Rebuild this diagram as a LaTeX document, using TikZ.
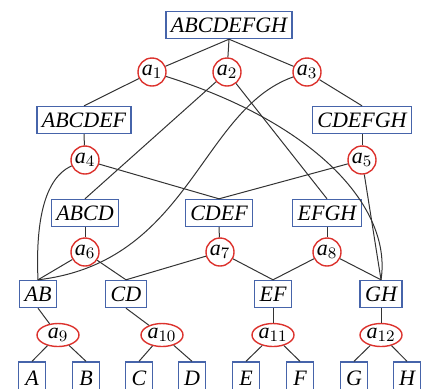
\documentclass[tikz,border=0pt]{standalone}
\usepackage{fontspec}
\setmainfont{Liberation Serif}
\usetikzlibrary{shapes.geometric}

\definecolor{setblue}{RGB}{70,100,170}
\definecolor{opred}{RGB}{220,50,45}

\tikzset{
	setnode/.style = {draw = setblue, line width = 0.7pt, font = \fontsize{11}{13}\selectfont\itshape,
		inner xsep = 2.5pt, inner ysep = 0pt, minimum height = 13.5pt, minimum width = 13.5pt},
	leafnode/.style = {setnode, minimum height = 16pt},
	opnode/.style = {circle, draw = opred, line width = 0.7pt, font = \fontsize{11}{13}\selectfont,
		minimum size = 14pt, inner sep = 0pt},
	opwide/.style = {ellipse, draw = opred, line width = 0.7pt, font = \fontsize{11}{13}\selectfont,
		minimum width = 21pt, minimum height = 11.5pt, inner sep = 0pt},
	link/.style = {draw = black!80, line width = 0.5pt}
}

\begin{document}
\begin{tikzpicture}[x = 0.5pt, y = -0.5pt]
	\useasboundingbox (0, 0) rectangle (426, 388);
	
	%	sets
	\node[setnode] (ABCDEFGH) at (229, 25) {ABCDEFGH};
	\node[setnode] (ABCDEF) at (84, 120) {ABCDEF};
	\node[setnode] (CDEFGH) at (362, 120) {CDEFGH};
	\node[setnode] (ABCD) at (85, 213) {ABCD};
	\node[setnode] (CDEF) at (219, 213) {CDEF};
	\node[setnode] (EFGH) at (327, 213) {EFGH};
	\node[setnode] (AB) at (38, 294) {AB};
	\node[setnode] (CD) at (126, 294) {CD};
	\node[setnode] (EF) at (273, 294) {EF};
	\node[setnode] (GH) at (381, 294) {GH};
	
	%	leaves
	\node[leafnode] (A) at (32, 378) {A};
	\node[leafnode] (B) at (86, 378) {B};
	\node[leafnode] (C) at (139, 378) {C};
	\node[leafnode] (D) at (192, 378) {D};
	\node[leafnode] (E) at (246, 378) {E};
	\node[leafnode] (F) at (300, 378) {F};
	\node[leafnode] (G) at (354, 378) {G};
	\node[leafnode] (H) at (407, 378) {H};
	
	%	splits
	\node[opnode] (a1) at (152, 72) {$\mathit{a}_{1}$};
	\node[opnode] (a2) at (227, 72) {$\mathit{a}_{2}$};
	\node[opnode] (a3) at (307, 72) {$\mathit{a}_{3}$};
	\node[opnode] (a4) at (85, 160) {$\mathit{a}_{4}$};
	\node[opnode] (a5) at (362, 160) {$\mathit{a}_{5}$};
	\node[opnode] (a6) at (85, 252) {$\mathit{a}_{6}$};
	\node[opnode] (a7) at (220, 252) {$\mathit{a}_{7}$};
	\node[opnode] (a8) at (327, 252) {$\mathit{a}_{8}$};
	\node[opwide] (a9) at (58, 335) {$\mathit{a}_{9}$};
	\node[opwide] (a10) at (162, 335) {$\mathit{a}_{10}$};
	\node[opwide] (a11) at (273, 335) {$\mathit{a}_{11}$};
	\node[opwide] (a12) at (381, 335) {$\mathit{a}_{12}$};
	
	%	set -> split
	\foreach \s/\o in {ABCDEFGH/a1, ABCDEFGH/a2, ABCDEFGH/a3, ABCDEF/a4, CDEFGH/a5,
		ABCD/a6, CDEF/a7, EFGH/a8, AB/a9, CD/a10, EF/a11, GH/a12}
		\draw[link] (\s.south) -- (\o);
	
	%	split -> parts
	\foreach \o/\s in {a1/ABCDEF, a2/ABCD, a2/EFGH, a3/CDEFGH, a4/CDEF, a5/CDEF, a5/GH,
		a6/AB, a6/CD, a7/CD, a7/EF, a8/EF, a8/GH,
		a9/A, a9/B, a10/C, a10/D, a11/E, a11/F, a12/G, a12/H}
		\draw[link] (\o) -- (\s.north);
	
	%	long ones
	\draw[link] (a1) .. controls (320, 125) and (392, 210) .. (GH.north);
	\draw[link] (a3) .. controls (200, 110) and (190, 262) .. (AB.north);
	\draw[link] (a4) .. controls (40, 180) and (36, 235) .. (AB.north);
\end{tikzpicture}
\end{document}
